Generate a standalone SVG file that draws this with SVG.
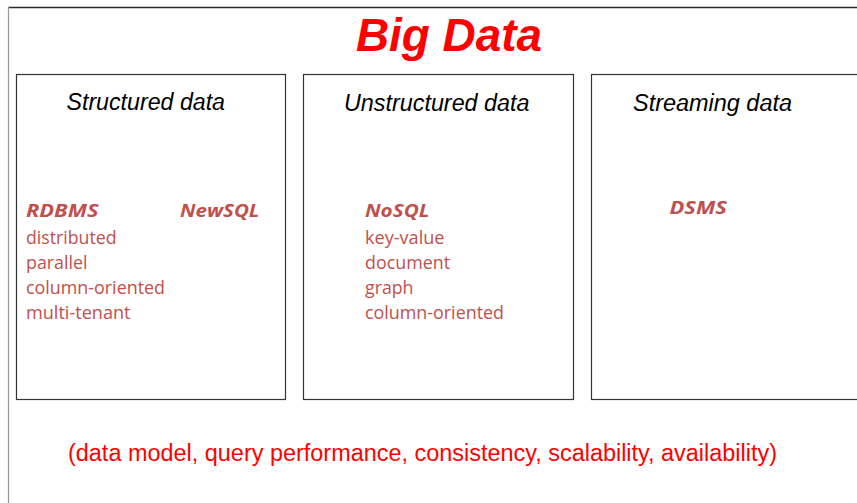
<svg xmlns="http://www.w3.org/2000/svg" width="857" height="503" viewBox="0 0 857 503">
  <style>
    .frame-top { stroke: #2a2a2a; stroke-width: 1.3; }
    .frame-side { stroke: #9a9a9a; stroke-width: 1.3; }
    .box { fill: #ffffff; stroke: #333333; stroke-width: 1.2; }
    .title { font-family: "Liberation Sans", Arial, sans-serif; font-weight: bold; font-style: italic; font-size: 46px; fill: #ff0000; }
    .head { font-family: "Liberation Sans", Arial, sans-serif; font-style: italic; font-size: 23px; fill: #000000; }
    .kind { font-family: "Open Sans", "Noto Sans", sans-serif; font-weight: bold; font-style: italic; font-size: 18px; fill: #c0504d; }
    .item { font-family: "Open Sans", "Noto Sans", sans-serif; font-size: 18px; fill: #c0504d; }
    .note { font-family: "Liberation Sans", Arial, sans-serif; font-size: 23px; fill: #ff0000; }
  </style>

  <rect x="0" y="0" width="857" height="503" fill="#ffffff"/>

  <!-- outer frame -->
  <g id="frame">
    <line class="frame-top" x1="8" y1="7.5" x2="857" y2="7.5"/>
    <line class="frame-side" x1="8.5" y1="7" x2="8.5" y2="503"/>
  </g>

  <g id="title">
    <text class="title" x="449" y="51" text-anchor="middle" textLength="186" lengthAdjust="spacingAndGlyphs">Big Data</text>
  </g>

  <!-- structured data -->
  <g id="structured">
    <rect class="box" x="16.5" y="74.5" width="269" height="325"/>
    <text class="head" x="66.5" y="110" textLength="158.5" lengthAdjust="spacingAndGlyphs">Structured data</text>
    <text class="kind" x="26" y="217" textLength="72.5" lengthAdjust="spacingAndGlyphs">RDBMS</text>
    <text class="kind" x="180" y="217" textLength="79.5" lengthAdjust="spacingAndGlyphs">NewSQL</text>
    <text class="item" x="26" y="244" textLength="90.5" lengthAdjust="spacingAndGlyphs">distributed</text>
    <text class="item" x="26" y="269" textLength="61.5" lengthAdjust="spacingAndGlyphs">parallel</text>
    <text class="item" x="26" y="294" textLength="139" lengthAdjust="spacingAndGlyphs">column-oriented</text>
    <text class="item" x="26" y="319" textLength="104.5" lengthAdjust="spacingAndGlyphs">multi-tenant</text>
  </g>

  <!-- unstructured data -->
  <g id="unstructured">
    <rect class="box" x="303.5" y="74.5" width="270" height="325"/>
    <text class="head" x="344" y="110.5" textLength="185.5" lengthAdjust="spacingAndGlyphs">Unstructured data</text>
    <text class="kind" x="365" y="217" textLength="64.5" lengthAdjust="spacingAndGlyphs">NoSQL</text>
    <text class="item" x="365" y="244" textLength="79.5" lengthAdjust="spacingAndGlyphs">key-value</text>
    <text class="item" x="365" y="269" textLength="85" lengthAdjust="spacingAndGlyphs">document</text>
    <text class="item" x="365" y="294" textLength="48.5" lengthAdjust="spacingAndGlyphs">graph</text>
    <text class="item" x="365" y="319" textLength="139" lengthAdjust="spacingAndGlyphs">column-oriented</text>
  </g>

  <!-- streaming data -->
  <g id="streaming">
    <rect class="box" x="591.5" y="74.5" width="300" height="325"/>
    <text class="head" x="633" y="111" textLength="159" lengthAdjust="spacingAndGlyphs">Streaming data</text>
    <text class="kind" x="669.5" y="214" textLength="57.5" lengthAdjust="spacingAndGlyphs">DSMS</text>
  </g>

  <g id="connectors"/>

  <g id="criteria">
    <text class="note" x="68" y="461" textLength="709" lengthAdjust="spacingAndGlyphs">(data model, query performance, consistency, scalability, availability)</text>
  </g>
</svg>
